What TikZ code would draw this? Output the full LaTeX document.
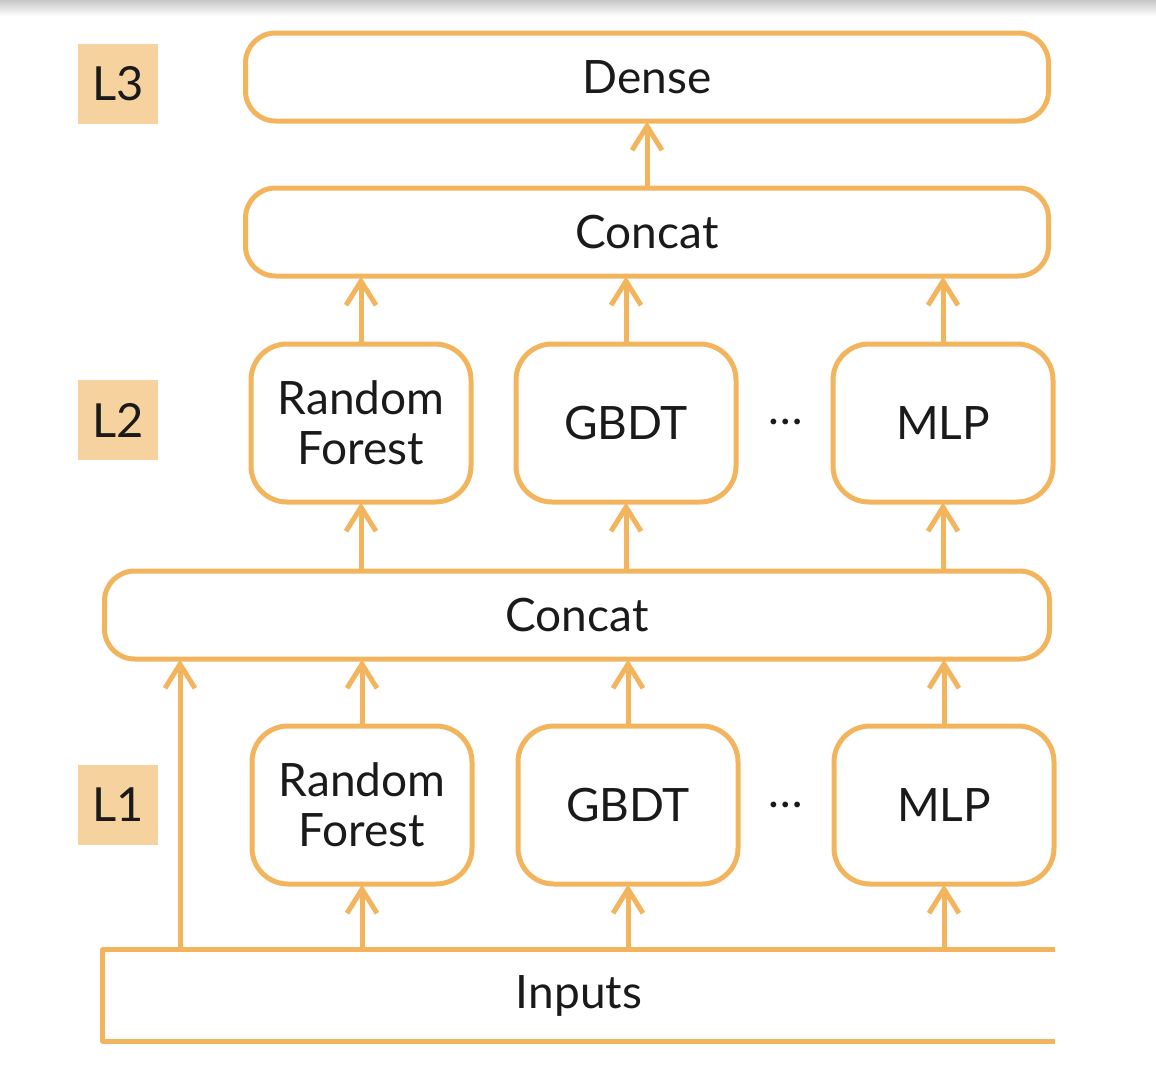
\documentclass[tikz,border=0pt]{standalone}
\usepackage{fontspec}
\setmainfont{Lato}
\usetikzlibrary{arrows.meta}
\definecolor{boxorange}{HTML}{F2B55E}
\definecolor{labelfill}{HTML}{F6D39E}
\definecolor{txt}{HTML}{1A1A1A}
\begin{document}
\begin{tikzpicture}[x=1pt,y=-1pt,
  box/.style={draw=boxorange, line width=5pt, rounded corners=30pt, inner sep=0pt,
    text=txt, font=\fontsize{46}{50}\selectfont, align=center},
  wide/.style={box, minimum height=88pt},
  model/.style={box, minimum width=220pt, minimum height=158pt, rounded corners=36pt},
  lvl/.style={fill=labelfill, minimum width=80pt, minimum height=80pt, inner sep=0pt,
    text=txt, font=\fontsize{47}{50}\selectfont},
  arr/.style={draw=boxorange, line width=5pt, -{Straight Barb[length=24pt,width=30pt,line join=miter]}, shorten >=-2pt},
  dots/.style={text=txt, font=\fontsize{46}{46}\selectfont, inner sep=0pt}
]
\useasboundingbox (0,0) rectangle (1156,1074);
\shade[top color=black!22, bottom color=white] (0,0) rectangle (1156,16);

% level labels
\node[lvl] (l3) at (118,84) {L3};
\node[lvl] (l2) at (118,420) {L2};
\node[lvl] (l1) at (118,805) {L1};

% boxes
\node[wide, minimum width=803pt] (dense) at (647,77) {Dense};
\node[wide, minimum width=803pt] (concatB) at (647,232) {Concat};
\node[model] (rf2) at (361,423) {Random\\Forest};
\node[model] (gbdt2) at (626,423) {GBDT};
\node[model] (mlp2) at (943,423) {MLP};
\node[wide, minimum width=945pt] (concatA) at (577,615) {Concat};
\node[model] (rf1) at (362,805) {Random\\Forest};
\node[model] (gbdt1) at (628,805) {GBDT};
\node[model] (mlp1) at (944,805) {MLP};
\node[dots] (d2) at (786,422) {…};
\node[dots] (d1) at (786,805) {…};

% inputs (open on the right)
\node[minimum width=952pt, minimum height=91pt, inner sep=0pt, text=txt,
  font=\fontsize{46}{50}\selectfont] (inputs) at (579,995.5) {Inputs};
\draw[boxorange, line width=5pt, line join=round]
  (inputs.north east) -- (inputs.north west) -- (inputs.south west) -- (inputs.south east);
\coordinate (skip) at (180,950);

% arrows
\draw[arr] (concatB) -- (dense);
\draw[arr] (rf2.north) -- (rf2.north |- concatB.south);
\draw[arr] (gbdt2.north) -- (gbdt2.north |- concatB.south);
\draw[arr] (mlp2.north) -- (mlp2.north |- concatB.south);
\draw[arr] (rf2.south |- concatA.north) -- (rf2.south);
\draw[arr] (gbdt2.south |- concatA.north) -- (gbdt2.south);
\draw[arr] (mlp2.south |- concatA.north) -- (mlp2.south);
\draw[arr] (rf1.north) -- (rf1.north |- concatA.south);
\draw[arr] (gbdt1.north) -- (gbdt1.north |- concatA.south);
\draw[arr] (mlp1.north) -- (mlp1.north |- concatA.south);
\draw[arr] (skip) -- (skip |- concatA.south);
\draw[arr] (rf1.south |- inputs.north) -- (rf1.south);
\draw[arr] (gbdt1.south |- inputs.north) -- (gbdt1.south);
\draw[arr] (mlp1.south |- inputs.north) -- (mlp1.south);
\end{tikzpicture}
\end{document}
